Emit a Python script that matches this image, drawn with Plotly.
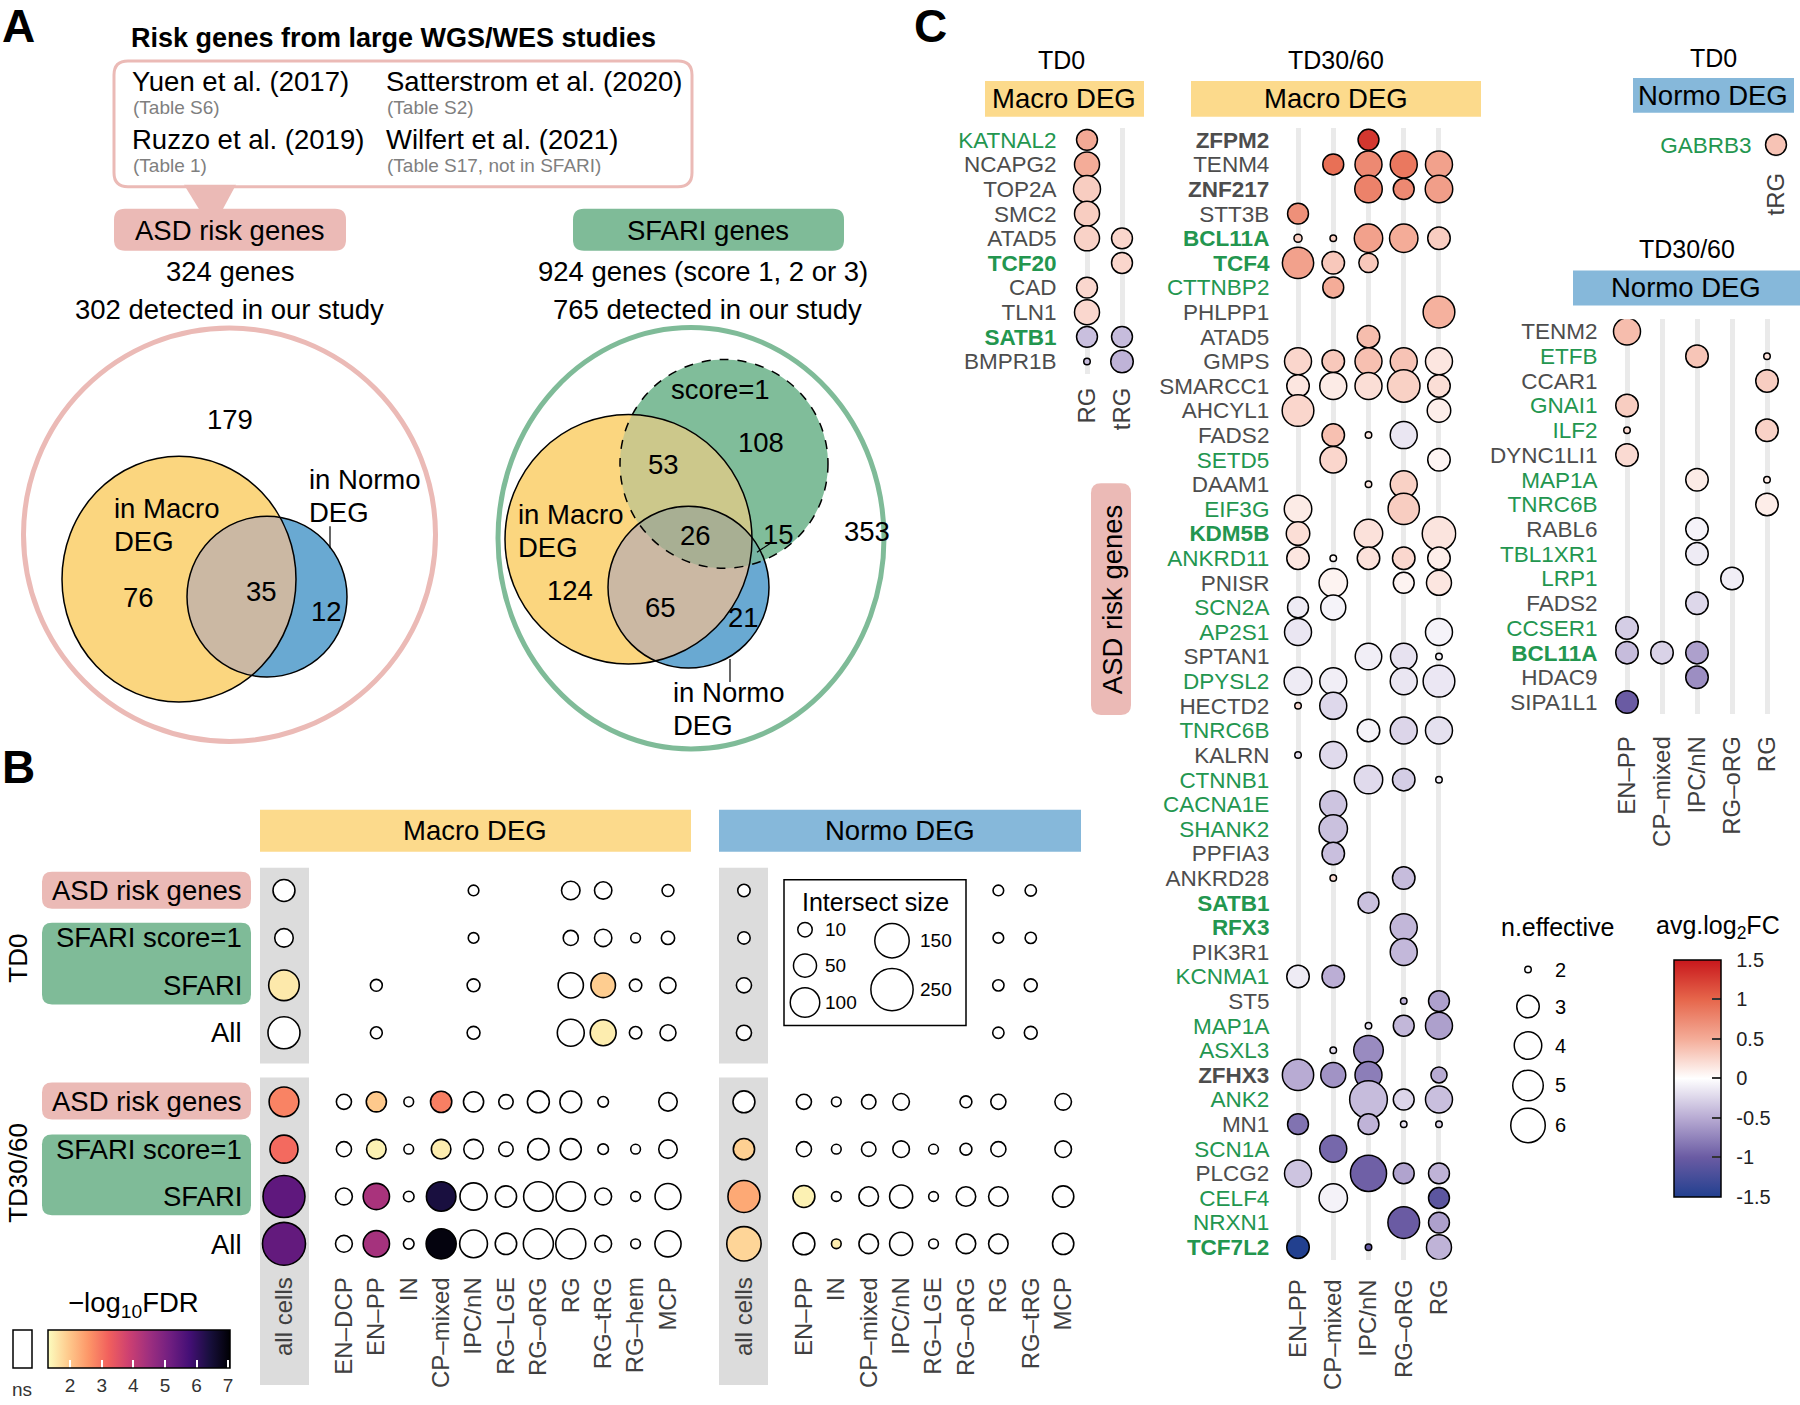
import numpy as np
import plotly.graph_objects as go

W, H = 1800, 1405
FONT = "Liberation Sans, Arial, Helvetica, sans-serif"

# ======================= DATA =======================
# ---- Panel A ----
studies = ["Yuen et al. (2017)", "Satterstrom et al. (2020)", "Ruzzo et al. (2019)", "Wilfert et al. (2021)"]
study_tables = ["(Table S6)", "(Table S2)", "(Table 1)", "(Table S17, not in SFARI)"]
asd_gene_text = ["324 genes", "302 detected in our study"]
sfari_gene_text = ["924 genes (score 1, 2 or 3)", "765 detected in our study"]
# left Venn: outside, macro only, macro&normo, normo only
venn_asd_counts = [179, 76, 35, 12]
# right Venn: score1 only, macro&score1, macro&normo&score1, normo&score1, outside, macro only, macro&normo, normo only
venn_sfari_counts = [108, 53, 26, 15, 353, 124, 65, 21]

# ---- Panel B ----
N = None
b_rows = ["ASD risk genes", "SFARI score=1", "SFARI", "All"]
b_macro_cells = ["all cells", "EN–DCP", "EN–PP", "IN", "CP–mixed", "IPC/nN", "RG–LGE", "RG–oRG", "RG", "RG–tRG", "RG–hem", "MCP"]
b_normo_cells = ["all cells", "EN–PP", "IN", "CP–mixed", "IPC/nN", "RG–LGE", "RG–oRG", "RG", "RG–tRG", "MCP"]

b_td0_macro_n = [
    [43, N, N, N, N, 2, N, N, 25, 20, N, 4],
    [25, N, N, N, N, 2, N, N, 12, 20, 1, 7],
    [110, N, 4, N, N, 6, N, N, 65, 60, 5, 15],
    [124, N, 4, N, N, 6, N, N, 78, 70, 5, 15]]
b_td0_macro_fdr = [
    [N, N, N, N, N, N, N, N, N, N, N, N],
    [N, N, N, N, N, N, N, N, N, N, N, N],
    [1.55, N, N, N, N, N, N, N, N, 1.9, N, N],
    [N, N, N, N, N, N, N, N, N, 1.5, N, N]]
b_td0_normo_n = [
    [5, N, N, N, N, N, N, 2, 3, N],
    [5, N, N, N, N, N, N, 2, 3, N],
    [12, N, N, N, N, N, N, 3, 6, N],
    [12, N, N, N, N, N, N, 3, 6, N]]
b_td0_normo_fdr = [[N] * 10 for _ in range(4)]

b_td30_macro_n = [
    [102, 12, 33, 1, 39, 33, 10, 43, 42, 2, N, 25],
    [87, 12, 30, 1, 30, 30, 10, 40, 38, 2, 1, 25],
    [245, 18, 73, 2, 100, 80, 39, 100, 100, 18, 1, 70],
    [260, 18, 73, 2, 105, 85, 40, 105, 105, 18, 1, 72]]
b_td30_macro_fdr = [
    [2.8, N, 1.95, N, 2.85, N, N, N, N, N, N, N],
    [3.1, N, 1.45, N, 1.5, N, N, N, N, N, N, N],
    [5.4, N, 4.35, N, 6.4, N, N, N, N, N, N, N],
    [5.35, N, 4.4, N, 6.95, N, N, N, N, N, N, N]]
b_td30_normo_n = [
    [43, 12, 1, 10, 17, N, 4, 12, N, 17],
    [39, 12, 1, 10, 17, 1, 4, 12, N, 17],
    [124, 43, 1, 30, 50, 1, 30, 30, N, 39],
    [149, 43, 1, 30, 50, 1, 30, 30, N, 39]]
b_td30_normo_fdr = [
    [N, N, N, N, N, N, N, N, N, N],
    [1.87, N, N, N, N, N, N, N, N, N],
    [2.35, 1.45, N, N, N, N, N, N, N, N],
    [1.8, N, 1.5, N, N, N, N, N, N, N]]

intersect_legend_sizes = [10, 50, 100, 150, 250]
fdr_ticks = [2, 3, 4, 5, 6, 7]

# ---- Panel C ----
sfari_genes = {"KATNAL2", "TCF20", "SATB1", "BCL11A", "TCF4", "CTTNBP2", "SETD5", "EIF3G", "KDM5B", "ANKRD11",
               "SCN2A", "AP2S1", "DPYSL2", "TNRC6B", "CTNNB1", "CACNA1E", "SHANK2", "RFX3", "KCNMA1", "MAP1A",
               "ASXL3", "ANK2", "SCN1A", "CELF4", "NRXN1", "TCF7L2", "GABRB3", "ETFB", "GNAI1", "ILF2",
               "TBL1XR1", "LRP1", "CCSER1"}
bold_genes = {"TCF20", "SATB1", "ZFPM2", "ZNF217", "BCL11A", "TCF4", "KDM5B", "RFX3", "ZFHX3", "TCF7L2"}

c1_cells = ["RG", "tRG"]
c1_genes = ["KATNAL2", "NCAPG2", "TOP2A", "SMC2", "ATAD5", "TCF20", "CAD", "TLN1", "SATB1", "BMPR1B"]
c1_dots = [  # gene, cell, n.effective, avg.log2FC
    ("KATNAL2", "RG", 2.9, 0.52), ("NCAPG2", "RG", 3.5, 0.50), ("TOP2A", "RG", 3.9, 0.30),
    ("SMC2", "RG", 3.5, 0.30), ("ATAD5", "RG", 3.5, 0.27), ("ATAD5", "tRG", 2.9, 0.25),
    ("TCF20", "tRG", 2.9, 0.25), ("CAD", "RG", 2.9, 0.24), ("TLN1", "RG", 3.5, 0.24),
    ("SATB1", "RG", 2.9, -0.38), ("SATB1", "tRG", 2.9, -0.40),
    ("BMPR1B", "RG", 2.0, -0.40), ("BMPR1B", "tRG", 3.0, -0.45)]

c2_cells = ["EN–PP", "CP–mixed", "IPC/nN", "RG–oRG", "RG"]
c2_genes = ["ZFPM2", "TENM4", "ZNF217", "STT3B", "BCL11A", "TCF4", "CTTNBP2", "PHLPP1", "ATAD5", "GMPS",
            "SMARCC1", "AHCYL1", "FADS2", "SETD5", "DAAM1", "EIF3G", "KDM5B", "ANKRD11", "PNISR", "SCN2A",
            "AP2S1", "SPTAN1", "DPYSL2", "HECTD2", "TNRC6B", "KALRN", "CTNNB1", "CACNA1E", "SHANK2", "PPFIA3",
            "ANKRD28", "SATB1", "RFX3", "PIK3R1", "KCNMA1", "ST5", "MAP1A", "ASXL3", "ZFHX3", "ANK2",
            "MN1", "SCN1A", "PLCG2", "CELF4", "NRXN1", "TCF7L2"]
E, Cm, I, O, R = c2_cells
c2_dots = [
    ("ZFPM2", I, 2.9, 1.30),
    ("TENM4", Cm, 2.9, 0.93), ("TENM4", I, 3.9, 0.75), ("TENM4", O, 3.9, 0.87), ("TENM4", R, 3.9, 0.58),
    ("ZNF217", I, 4.0, 0.80), ("ZNF217", O, 2.9, 0.75), ("ZNF217", R, 4.0, 0.60),
    ("STT3B", E, 2.9, 0.70),
    ("BCL11A", E, 2.1, 0.30), ("BCL11A", Cm, 2.0, 0.30), ("BCL11A", I, 4.3, 0.58), ("BCL11A", O, 4.3, 0.50), ("BCL11A", R, 3.0, 0.30),
    ("TCF4", E, 5.2, 0.58), ("TCF4", Cm, 3.0, 0.33), ("TCF4", I, 2.8, 0.33),
    ("CTTNBP2", Cm, 2.9, 0.50),
    ("PHLPP1", R, 5.3, 0.47),
    ("ATAD5", I, 3.0, 0.40),
    ("GMPS", E, 3.9, 0.25), ("GMPS", Cm, 3.0, 0.33), ("GMPS", I, 3.9, 0.38), ("GMPS", O, 3.9, 0.36), ("GMPS", R, 3.9, 0.15),
    ("SMARCC1", E, 3.0, 0.15), ("SMARCC1", Cm, 3.9, 0.12), ("SMARCC1", I, 3.9, 0.20), ("SMARCC1", O, 5.5, 0.28), ("SMARCC1", R, 3.0, 0.20),
    ("AHCYL1", E, 5.3, 0.25), ("AHCYL1", R, 3.2, 0.10),
    ("FADS2", Cm, 3.0, 0.38), ("FADS2", I, 2.0, 0.15), ("FADS2", O, 3.9, -0.15),
    ("SETD5", Cm, 3.8, 0.25), ("SETD5", R, 3.0, 0.06),
    ("DAAM1", I, 2.0, 0.15), ("DAAM1", O, 3.9, 0.28),
    ("EIF3G", E, 4.0, 0.12), ("EIF3G", O, 5.2, 0.30),
    ("KDM5B", E, 3.2, 0.20), ("KDM5B", I, 4.3, 0.18), ("KDM5B", R, 5.75, 0.16),
    ("ANKRD11", E, 3.0, 0.15), ("ANKRD11", Cm, 2.0, 0.04), ("ANKRD11", I, 3.0, 0.18), ("ANKRD11", O, 3.0, 0.24), ("ANKRD11", R, 3.0, 0.10),
    ("PNISR", Cm, 4.3, 0.07), ("PNISR", O, 2.9, 0.07), ("PNISR", R, 3.5, 0.15),
    ("SCN2A", E, 2.9, -0.12), ("SCN2A", Cm, 3.5, -0.07),
    ("AP2S1", E, 3.9, -0.15), ("AP2S1", R, 3.9, -0.07),
    ("SPTAN1", I, 3.8, -0.10), ("SPTAN1", O, 3.8, -0.17), ("SPTAN1", R, 2.0, -0.07),
    ("DPYSL2", E, 4.1, -0.12), ("DPYSL2", Cm, 3.9, -0.10), ("DPYSL2", O, 3.9, -0.15), ("DPYSL2", R, 5.3, -0.14),
    ("HECTD2", E, 2.0, 0.22), ("HECTD2", Cm, 3.9, -0.23),
    ("TNRC6B", I, 3.0, -0.07), ("TNRC6B", O, 3.9, -0.25), ("TNRC6B", R, 3.9, -0.18),
    ("KALRN", E, 2.0, -0.20), ("KALRN", Cm, 3.9, -0.22),
    ("CTNNB1", I, 4.3, -0.22), ("CTNNB1", O, 3.0, -0.30), ("CTNNB1", R, 2.0, -0.12),
    ("CACNA1E", Cm, 3.9, -0.35),
    ("SHANK2", Cm, 4.3, -0.37),
    ("PPFIA3", Cm, 3.0, -0.38),
    ("ANKRD28", Cm, 2.0, 0.22), ("ANKRD28", O, 3.0, -0.40),
    ("SATB1", I, 2.9, -0.37),
    ("RFX3", O, 3.9, -0.43),
    ("PIK3R1", O, 3.9, -0.42),
    ("KCNMA1", E, 3.0, -0.12), ("KCNMA1", Cm, 3.0, -0.48),
    ("ST5", O, 2.0, -0.46), ("ST5", R, 2.9, -0.57),
    ("MAP1A", I, 2.0, -0.18), ("MAP1A", O, 2.9, -0.43), ("MAP1A", R, 3.9, -0.57),
    ("ASXL3", Cm, 2.0, -0.20), ("ASXL3", I, 4.7, -0.70),
    ("ZFHX3", E, 5.2, -0.50), ("ZFHX3", Cm, 3.5, -0.65), ("ZFHX3", I, 3.9, -0.78), ("ZFHX3", R, 2.6, -0.50),
    ("ANK2", I, 6.8, -0.40), ("ANK2", O, 2.9, -0.25), ("ANK2", R, 3.9, -0.38),
    ("MN1", E, 2.9, -0.85), ("MN1", I, 2.9, -0.45), ("MN1", O, 2.0, -0.18), ("MN1", R, 2.0, -0.26),
    ("SCN1A", Cm, 3.9, -0.92),
    ("PLCG2", E, 3.9, -0.35), ("PLCG2", I, 6.4, -0.97), ("PLCG2", O, 2.9, -0.55), ("PLCG2", R, 2.9, -0.45),
    ("CELF4", Cm, 4.3, -0.08), ("CELF4", R, 2.9, -1.10),
    ("NRXN1", O, 5.3, -1.00), ("NRXN1", R, 2.9, -0.57),
    ("TCF7L2", E, 3.0, -1.50), ("TCF7L2", I, 2.0, -1.05), ("TCF7L2", R, 3.5, -0.45)]

c3_cells = ["tRG"]
c3_genes = ["GABRB3"]
c3_dots = [("GABRB3", "tRG", 2.9, 0.36)]

c4_cells = ["EN–PP", "CP–mixed", "IPC/nN", "RG–oRG", "RG"]
c4_genes = ["TENM2", "ETFB", "CCAR1", "GNAI1", "ILF2", "DYNC1LI1", "MAP1A", "TNRC6B", "RABL6", "TBL1XR1",
            "LRP1", "FADS2", "CCSER1", "BCL11A", "HDAC9", "SIPA1L1"]
c4_dots = [
    ("TENM2", E, 3.9, 0.40),
    ("ETFB", I, 3.0, 0.35), ("ETFB", R, 2.0, 0.18),
    ("CCAR1", R, 3.0, 0.30),
    ("GNAI1", E, 3.0, 0.30),
    ("ILF2", E, 2.0, 0.22), ("ILF2", R, 3.0, 0.27),
    ("DYNC1LI1", E, 3.0, 0.22),
    ("MAP1A", I, 3.0, 0.12), ("MAP1A", R, 2.0, 0.12),
    ("TNRC6B", R, 3.0, 0.11),
    ("RABL6", I, 3.0, -0.07),
    ("TBL1XR1", I, 3.0, -0.12),
    ("LRP1", O, 3.0, -0.10),
    ("FADS2", I, 3.0, -0.24),
    ("CCSER1", E, 3.0, -0.30),
    ("BCL11A", E, 3.0, -0.40), ("BCL11A", Cm, 3.0, -0.27), ("BCL11A", I, 3.0, -0.57),
    ("HDAC9", I, 3.0, -0.68),
    ("SIPA1L1", E, 3.0, -1.00)]

neff_legend = [2, 3, 4, 5, 6]
fc_ticks = [-1.5, -1, -0.5, 0, 0.5, 1, 1.5]

# ======================= STYLE / HELPERS =======================
PINK = "#EBBAB6"
GREEN = "#7FBB98"
YELLOW_HDR = "#FCDA8C"
BLUE_HDR = "#86B8DA"
GREEN_TXT = "#23964F"
GRAY_TXT = "#4D4D4D"
TICK_TXT = "#404040"
FS = 27.5  # main text size

def X(px):
    return px / W

def Y(py):
    return 1 - py / H

def P(x, y):
    return f"{X(x):.6f},{Y(y):.6f}"

shapes, annos = [], []

def add_text(x, y, s, size=FS, color="black", xanchor="center", yanchor="middle", angle=0):
    annos.append(dict(x=X(x), y=Y(y), xref="paper", yref="paper", text=s, showarrow=False,
                      font=dict(size=size, color=color, family=FONT), xanchor=xanchor,
                      yanchor=yanchor, textangle=angle))

def rrect(x0, y0, x1, y1, r, fill, lc="rgba(0,0,0,0)", lw=0):
    path = (f"M {P(x0 + r, y0)} L {P(x1 - r, y0)} Q {P(x1, y0)} {P(x1, y0 + r)} "
            f"L {P(x1, y1 - r)} Q {P(x1, y1)} {P(x1 - r, y1)} L {P(x0 + r, y1)} "
            f"Q {P(x0, y1)} {P(x0, y1 - r)} L {P(x0, y0 + r)} Q {P(x0, y0)} {P(x0 + r, y0)} Z")
    shapes.append(dict(type="path", path=path, xref="paper", yref="paper", fillcolor=fill,
                       line=dict(color=lc, width=lw), layer="below"))

def rect(x0, y0, x1, y1, fill, lc="rgba(0,0,0,0)", lw=0, layer="below"):
    shapes.append(dict(type="rect", xref="paper", yref="paper", x0=X(x0), x1=X(x1), y0=Y(y1), y1=Y(y0),
                       fillcolor=fill, line=dict(color=lc, width=lw), layer=layer))

def line(x0, y0, x1, y1, color="black", width=1.2, layer="below"):
    shapes.append(dict(type="line", xref="paper", yref="paper", x0=X(x0), x1=X(x1), y0=Y(y0), y1=Y(y1),
                       line=dict(color=color, width=width), layer=layer))

def ellipse(e, fill="rgba(0,0,0,0)", lc="black", lw=1.5, dash="solid"):
    cx, cy, rx, ry = e
    shapes.append(dict(type="circle", xref="paper", yref="paper", x0=X(cx - rx), x1=X(cx + rx),
                       y0=Y(cy + ry), y1=Y(cy - ry), fillcolor=fill,
                       line=dict(color=lc, width=lw, dash=dash), layer="below"))

def ellipse_pts(e, n=360):
    cx, cy, rx, ry = e
    t = np.linspace(0, 2 * np.pi, n, endpoint=False)
    return list(zip(cx + rx * np.cos(t), cy + ry * np.sin(t)))

def clip_poly(subject, clipper):
    ar = sum(clipper[i][0] * clipper[(i + 1) % len(clipper)][1] - clipper[(i + 1) % len(clipper)][0] * clipper[i][1]
             for i in range(len(clipper)))
    s = 1 if ar > 0 else -1

    def inside(p, a, b):
        return s * ((b[0] - a[0]) * (p[1] - a[1]) - (b[1] - a[1]) * (p[0] - a[0])) >= 0

    def inter(p, q, a, b):
        x1, y1 = p; x2, y2 = q; x3, y3 = a; x4, y4 = b
        den = (x1 - x2) * (y3 - y4) - (y1 - y2) * (x3 - x4)
        t = ((x1 - x3) * (y3 - y4) - (y1 - y3) * (x3 - x4)) / den
        return (x1 + t * (x2 - x1), y1 + t * (y2 - y1))

    out = subject
    for i in range(len(clipper)):
        a, b = clipper[i], clipper[(i + 1) % len(clipper)]
        inp, out = out, []
        if not inp:
            break
        prev = inp[-1]
        for cur in inp:
            if inside(cur, a, b):
                if not inside(prev, a, b):
                    out.append(inter(prev, cur, a, b))
                out.append(cur)
            elif inside(prev, a, b):
                out.append(inter(prev, cur, a, b))
            prev = cur
    return out

def poly(pts, fill):
    if len(pts) < 3:
        return
    shapes.append(dict(type="path", path="M " + " L ".join(P(x, y) for x, y in pts) + " Z",
                       xref="paper", yref="paper", fillcolor=fill, line=dict(width=0), layer="below"))

fig = go.Figure()

# ======================= PANEL A =======================
add_text(0, 26, "<b>A</b>", size=46, xanchor="left")
add_text(393, 38, "<b>Risk genes from large WGS/WES studies</b>", size=27)
rrect(114, 61, 692, 187, 14, "white", PINK, 3)
poly([(184, 185), (236, 185), (222, 211), (200, 211)], PINK)
study_xy = [(132, 82), (386, 82), (132, 140), (386, 140)]
for (sx, sy), s, t in zip(study_xy, studies, study_tables):
    add_text(sx - 2, sy, s, size=FS, xanchor="left")
    add_text(sx - 1, sy + 26, t, size=19, color="#7F7F7F", xanchor="left")
rrect(114, 209, 346, 251, 11, PINK)
add_text(230, 231, "ASD risk genes", size=FS)
add_text(230, 272, asd_gene_text[0], size=FS)
add_text(230, 310, asd_gene_text[1], size=FS)
rrect(573, 209, 844, 251, 11, GREEN)
add_text(708, 231, "SFARI genes", size=FS)
add_text(703, 272, sfari_gene_text[0], size=FS)
add_text(707, 310, sfari_gene_text[1], size=FS)

VEN_Y, VEN_B, VEN_G = "#FBD67F", "#69A9D2", "#80BD9A"
# left Venn
eL_out = (229.5, 535.5, 206, 207)
eL_mac = (179, 580, 117, 123)
eL_nor = (267, 597.5, 80, 80.5)
ellipse(eL_out, lc=PINK, lw=5)
ellipse(eL_mac, fill=VEN_Y, lw=0)
ellipse(eL_nor, fill=VEN_B, lw=0)
poly(clip_poly(ellipse_pts(eL_mac), ellipse_pts(eL_nor)), "#CBB8A3")
ellipse(eL_mac)
ellipse(eL_nor)
line(330, 527, 330, 549)
for (tx, ty), v in zip([(230, 420), (138, 598), (261, 592), (326, 612)], venn_asd_counts):
    add_text(tx, ty, str(v), size=FS)
add_text(112, 509, "in Macro", size=FS, xanchor="left")
add_text(112, 542, "DEG", size=FS, xanchor="left")
add_text(307, 480, "in Normo", size=FS, xanchor="left")
add_text(307, 513, "DEG", size=FS, xanchor="left")

# right Venn
eR_out = (691, 539, 193, 211)
eR_s1 = (724, 464.5, 104, 104.5)
eR_mac = (628.5, 540, 123.5, 125)
eR_nor = (688.5, 588, 80.5, 81)
ellipse(eR_out, lc=GREEN, lw=5)
ellipse(eR_s1, fill=VEN_G, lw=0)
ellipse(eR_mac, fill=VEN_Y, lw=0)
ellipse(eR_nor, fill=VEN_B, lw=0)
pS, pM, pN = ellipse_pts(eR_s1), ellipse_pts(eR_mac), ellipse_pts(eR_nor)
poly(clip_poly(pN, pS), "#76B4A4")
poly(clip_poly(pM, pS), "#CCC88B")
mn = clip_poly(pM, pN)
poly(mn, "#CBB8A3")
poly(clip_poly(mn, pS), "#A8AF93")
ellipse(eR_mac)
ellipse(eR_nor)
ellipse(eR_s1, lw=1.5, dash="dash")
line(730, 660, 730, 683)
line(772, 543, 757, 553)
add_text(720, 390, "score=1", size=FS)
for (tx, ty), v in zip([(761, 443), (663, 465), (695, 536), (778, 535), (867, 532), (570, 591), (660, 608), (743, 618)],
                       venn_sfari_counts):
    add_text(tx, ty, str(v), size=FS)
add_text(516, 515, "in Macro", size=FS, xanchor="left")
add_text(516, 548, "DEG", size=FS, xanchor="left")
add_text(671, 693, "in Normo", size=FS, xanchor="left")
add_text(671, 727, "DEG", size=FS, xanchor="left")

# ======================= PANEL B =======================
add_text(0, 768, "<b>B</b>", size=46, xanchor="left")
rect(260, 811, 691, 853, YELLOW_HDR)
add_text(475, 832, "Macro DEG", size=FS)
rect(719, 811, 1081, 853, BLUE_HDR)
add_text(900, 832, "Normo DEG", size=FS)
for gx0, gx1 in [(260, 309), (719, 768)]:
    rect(gx0, 869, gx1, 1065, "#DCDCDC")
    rect(gx0, 1079, gx1, 1387, "#DCDCDC")

B_ROW_Y = {"td0": [892, 939, 987, 1034], "td30": [1103, 1151, 1198, 1246]}
for key, label in [("td0", "TD0"), ("td30", "TD30/60")]:
    ys = B_ROW_Y[key]
    rrect(42, ys[0] - 19, 251, ys[0] + 18, 10, PINK)
    rrect(42, ys[1] - 15, 251, ys[2] + 19, 10, GREEN)
    for yy, rname in zip(ys, b_rows):
        add_text(244, yy, rname, size=FS, xanchor="right")
    add_text(18, (ys[0] + ys[3]) / 2 + (-3 if key == "td0" else 0), label, size=26, angle=-90)

def b_positions(cells, gap=1.85):
    return [0.0] + [gap + i for i in range(len(cells) - 1)]

def b_size(n):
    return 7.5 + 2.2 * np.sqrt(n)

def add_b(sizes, fdrs, cells, xa, ya):
    pos = b_positions(cells)
    sig = dict(x=[], y=[], s=[], c=[])
    ns = dict(x=[], y=[], s=[])
    for r, rname in enumerate(b_rows):
        for c in range(len(cells)):
            n = sizes[r][c]
            if n is None:
                continue
            f = fdrs[r][c]
            d = sig if f is not None else ns
            d["x"].append(pos[c]); d["y"].append(rname); d["s"].append(b_size(n))
            if f is not None:
                d["c"].append(f)
    fig.add_trace(go.Scatter(x=ns["x"], y=ns["y"], mode="markers", xaxis=xa, yaxis=ya, showlegend=False,
                             hoverinfo="skip",
                             marker=dict(size=ns["s"], color="white", opacity=1,
                                         line=dict(color="black", width=1.6))))
    if sig["x"]:
        fig.add_trace(go.Scatter(x=sig["x"], y=sig["y"], mode="markers", xaxis=xa, yaxis=ya, showlegend=False,
                                 hoverinfo="skip",
                                 marker=dict(size=sig["s"], color=sig["c"], coloraxis="coloraxis", opacity=1,
                                             line=dict(color="black", width=1.6))))

add_b(b_td0_macro_n, b_td0_macro_fdr, b_macro_cells, "x", "y")
add_b(b_td0_normo_n, b_td0_normo_fdr, b_normo_cells, "x2", "y2")
add_b(b_td30_macro_n, b_td30_macro_fdr, b_macro_cells, "x3", "y3")
add_b(b_td30_normo_n, b_td30_normo_fdr, b_normo_cells, "x4", "y4")

def b_xaxis(x0, x1, rng, cells, show, anchor):
    return dict(domain=[X(x0), X(x1)], range=rng, anchor=anchor, showgrid=False, zeroline=False,
                showline=False, ticks="", tickvals=b_positions(cells), ticktext=cells, showticklabels=show,
                tickangle=-90, tickfont=dict(size=24, color=TICK_TXT, family=FONT), ticklabelstandoff=4)

def b_yaxis(y0, y1, anchor):
    return dict(domain=[Y(y1), Y(y0)], type="category", categoryorder="array", categoryarray=b_rows,
                range=[len(b_rows) - 0.5, -0.5], anchor=anchor, showticklabels=False, showgrid=False,
                zeroline=False, ticks="")

MAC_RNG, NOR_RNG = [-0.74, 12.56], [-0.77, 10.4]

# intersect size legend
rect(784, 881, 966, 1027, "white", "black", 1.5)
add_text(875, 903, "Intersect size", size=25)
il_x = [805, 805, 805, 892, 892]
il_y = [931, 967, 1004, 942, 991]
fig.add_trace(go.Scatter(x=il_x, y=il_y, mode="markers", xaxis="x9", yaxis="y9", showlegend=False,
                         hoverinfo="skip",
                         marker=dict(size=[b_size(v) for v in intersect_legend_sizes], color="white", opacity=1,
                                     line=dict(color="black", width=1.5))))
for xx, yy, v in zip(il_x, il_y, intersect_legend_sizes):
    add_text(xx + (18 if xx < 850 else 26), yy, str(v), size=19, xanchor="left")

# FDR colorbar extras
add_text(133, 1306, "−log<sub>10</sub>FDR", size=FS)
rect(13, 1332, 32, 1370, "white", "black", 1.5)
add_text(22, 1391, "ns", size=19, color="#333333")

# ======================= PANEL C =======================
add_text(912, 26, "<b>C</b>", size=46, xanchor="left")
add_text(1061, 60, "TD0", size=25)
add_text(1336, 60, "TD30/60", size=25)
add_text(1713, 58, "TD0", size=25)
add_text(1687, 249, "TD30/60", size=25)
rect(985, 81, 1144, 117, YELLOW_HDR)
add_text(1064, 99, "Macro DEG", size=FS)
rect(1191, 81, 1481, 117, YELLOW_HDR)
add_text(1336, 99, "Macro DEG", size=FS)
rect(1633, 78, 1794, 113, BLUE_HDR)
add_text(1713, 96, "Normo DEG", size=FS)
rect(1573, 271, 1800, 306, BLUE_HDR)
add_text(1686, 288, "Normo DEG", size=FS)
rrect(1091, 484, 1131, 716, 10, PINK)
add_text(1112, 600, "ASD risk genes", size=FS, angle=-90)

fc_scale = [[0.0, "#22408F"], [1 / 6, "#6A5BA3"], [2 / 6, "#B8ABD3"], [0.5, "#FFFFFF"],
            [4 / 6, "#F4AC98"], [5 / 6, "#E6664B"], [1.0, "#C8171C"]]
NEFF_TAB = ([2, 3, 4, 5, 6, 7], [8, 24, 29, 32, 36, 40])

def c_size(n):
    return float(np.interp(n, NEFF_TAB[0], NEFF_TAB[1])) - 1.5

def gene_label(g):
    c = GREEN_TXT if g in sfari_genes else GRAY_TXT
    t = f"<b>{g}</b>" if g in bold_genes else g
    return f"<span style='color:{c}'>{t}</span>"

def add_c(dots, xa, ya):
    fig.add_trace(go.Scatter(x=[d[1] for d in dots], y=[d[0] for d in dots], mode="markers",
                             xaxis=xa, yaxis=ya, showlegend=False, hoverinfo="skip",
                             marker=dict(size=[c_size(d[2]) for d in dots], color=[d[3] for d in dots],
                                         coloraxis="coloraxis2", opacity=1,
                                         line=dict(color="black", width=1.5))))

add_c(c1_dots, "x5", "y5")
add_c(c2_dots, "x6", "y6")
add_c(c3_dots, "x7", "y7")
add_c(c4_dots, "x8", "y8")

def c_xaxis(x0, x1, cells, anchor, standoff):
    return dict(domain=[X(x0), X(x1)], type="category", categoryorder="array", categoryarray=cells,
                range=[-0.5, len(cells) - 0.5], anchor=anchor, showgrid=True, gridcolor="#EAEAEA",
                gridwidth=5, zeroline=False, showline=False, ticks="", tickangle=-90,
                tickfont=dict(size=24, color=TICK_TXT, family=FONT), ticklabelstandoff=standoff)

def c_yaxis(y0, y1, genes, anchor, standoff):
    return dict(domain=[Y(y1), Y(y0)], type="category", categoryorder="array", categoryarray=genes,
                range=[len(genes) - 0.5, -0.5], anchor=anchor, showgrid=False, zeroline=False,
                showline=False, ticks="", tickvals=genes, ticktext=[gene_label(g) for g in genes],
                tickfont=dict(size=22.5, color=GRAY_TXT, family=FONT), ticklabelstandoff=standoff)

# n.effective legend
add_text(1558, 928, "n.effective", size=25)
nl_y = [971, 1008, 1047, 1087, 1127]
fig.add_trace(go.Scatter(x=[1528] * len(neff_legend), y=nl_y, mode="markers", xaxis="x9", yaxis="y9",
                         showlegend=False, hoverinfo="skip",
                         marker=dict(size=[c_size(v) for v in neff_legend], color="white", opacity=1,
                                     line=dict(color="black", width=1.5))))
for yy, v in zip(nl_y, neff_legend):
    add_text(1553, yy, str(v), size=20, xanchor="left")
add_text(1718, 928, "avg.log<sub>2</sub>FC", size=25)
CB_TOP, CB_LEN = 961, 237
for v in fc_ticks[1:-1]:
    yy = CB_TOP + (1.5 - v) / 3.0 * CB_LEN
    line(1674, yy, 1683, yy, color="#333333", width=2, layer="above")

# ======================= LAYOUT =======================
fig.update_layout(
    width=W, height=H, margin=dict(l=0, r=0, t=0, b=0),
    paper_bgcolor="white", plot_bgcolor="rgba(0,0,0,0)", showlegend=False,
    font=dict(family=FONT, color="black"),
    xaxis=b_xaxis(260, 691, MAC_RNG, b_macro_cells, False, "y"),
    yaxis=b_yaxis(868, 1058, "x"),
    xaxis2=b_xaxis(719, 1081, NOR_RNG, b_normo_cells, False, "y2"),
    yaxis2=b_yaxis(868, 1058, "x2"),
    xaxis3=b_xaxis(260, 691, MAC_RNG, b_macro_cells, True, "y3"),
    yaxis3=b_yaxis(1079.7, 1269.3, "x3"),
    xaxis4=b_xaxis(719, 1081, NOR_RNG, b_normo_cells, True, "y4"),
    yaxis4=b_yaxis(1079.7, 1269.3, "x4"),
    xaxis5=c_xaxis(1069.5, 1139.5, c1_cells, "y5", 8),
    yaxis5=c_yaxis(127.7, 374.3, c1_genes, "x5", 12),
    xaxis6=c_xaxis(1280.4, 1456.6, c2_cells, "y6", 14),
    yaxis6=c_yaxis(127.7, 1261.3, c2_genes, "x6", 10),
    xaxis7=c_xaxis(1758.5, 1793.5, c3_cells, "y7", 10),
    yaxis7=c_yaxis(132.7, 157.3, c3_genes, "x7", 6),
    xaxis8=c_xaxis(1609.5, 1784.5, c4_cells, "y8", 16),
    yaxis8=c_yaxis(319.6, 715.4, c4_genes, "x8", 11),
    xaxis9=dict(domain=[0, 1], range=[0, W], visible=False, anchor="y9", fixedrange=True),
    yaxis9=dict(domain=[0, 1], range=[H, 0], visible=False, anchor="x9", fixedrange=True),
    coloraxis=dict(colorscale="magma_r", cmin=1.3, cmax=7.06,
                   colorbar=dict(orientation="h", x=X(48), xanchor="left", y=Y(1332), yanchor="top",
                                 len=182, lenmode="pixels", thickness=38, thicknessmode="pixels",
                                 xpad=0, ypad=0, outlinewidth=1.5, outlinecolor="black",
                                 tickvals=fdr_ticks, ticks="inside", ticklen=8, tickcolor="white",
                                 tickwidth=1.5, tickfont=dict(size=19, color="#333333", family=FONT))),
    coloraxis2=dict(colorscale=fc_scale, cmin=-1.5, cmax=1.5,
                    colorbar=dict(x=X(1674), xanchor="left", y=Y(CB_TOP), yanchor="top",
                                  len=CB_LEN, lenmode="pixels", thickness=47, thicknessmode="pixels",
                                  xpad=0, ypad=0, outlinewidth=1.5, outlinecolor="black",
                                  tickvals=fc_ticks, ticktext=["\u2002" + f"{v:g}" for v in fc_ticks],
                                  ticks="inside", ticklen=9, tickwidth=2, tickcolor="#333333",
                                  tickfont=dict(size=20, color="#222222", family=FONT))),
    shapes=shapes, annotations=annos,
)

fig.write_html("out.html", config={"displayModeBar": False},
               post_script="document.body.style.margin='0';")
